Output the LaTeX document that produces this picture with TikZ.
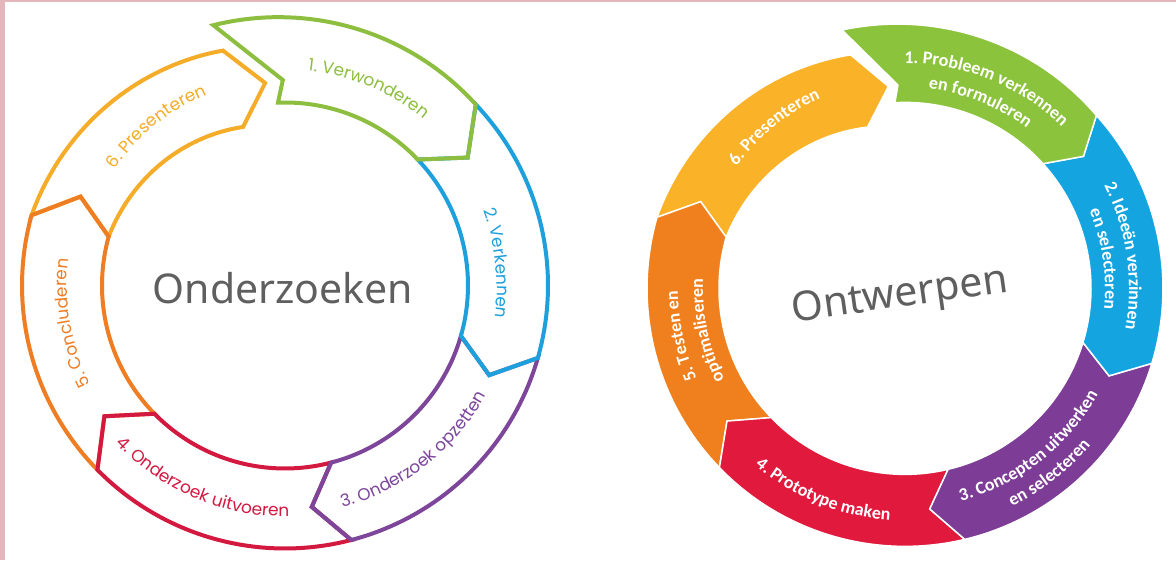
\documentclass[tikz,border=0pt]{standalone}
\usepackage{fontspec}
\usetikzlibrary{decorations.text}
\newfontfamily\popfont{Poppins}
\newfontfamily\carfont{Carlito}
\newfontfamily\notofont{Noto Sans}
\definecolor{pinkedge}{RGB}{226,182,186}
\definecolor{titlegray}{RGB}{95,95,95}
\definecolor{lgreen}{RGB}{141,190,64}
\definecolor{lblue}{RGB}{30,160,220}
\definecolor{lpurple}{RGB}{125,70,155}
\definecolor{lred}{RGB}{212,25,65}
\definecolor{ldorange}{RGB}{238,125,35}
\definecolor{lyellow}{RGB}{245,172,40}
\definecolor{rgreen}{RGB}{140,195,60}
\definecolor{rblue}{RGB}{20,165,225}
\definecolor{rpurple}{RGB}{125,60,150}
\definecolor{rred}{RGB}{225,25,60}
\definecolor{rorange}{RGB}{240,128,30}
\definecolor{ryellow}{RGB}{250,178,40}
\newcommand{\lfont}{\fontsize{17}{20}\selectfont\popfont}
\newcommand{\rfont}{\fontsize{18}{22}\selectfont\carfont\bfseries}
% #1 style, #2 tail, #3 notch, #4 head, #5 tip, #6/#7 radii at tail, #8/#9 radii at head
\newcommand{\ringpart}[9]{%
    \path[#1]
        plot[domain = #2:#4, samples = 40] (\x:{#7 + (#9 - #7)*(\x - (#2))/((#4) - (#2))})
        -- (#5:{(#8 + #9)/2})
        -- plot[domain = #4:#2, samples = 40] (\x:{#8 + (#6 - #8)*(\x - (#4))/((#2) - (#4))})
        -- (#3:{(#6 + #7)/2})
        -- cycle;}
\begin{document}
\begin{tikzpicture}[x = 1pt, y = 1pt,
        leftseg/.style = {draw = #1, line width = 4pt},
        rightseg/.style = {fill = #1, draw = white, line width = 1.5pt},
        ltext/.style = {decorate, decoration = {text along path, text align = center, text color = #1}},
        rtext/.style = {decorate, decoration = {text along path, text align = center, text color = white}},
        titletext/.style = {font = \notofont\fontsize{41}{48}\selectfont, text = titlegray, inner sep = 0pt}]
    \useasboundingbox (0, 0) rectangle (1176, 560);
    \fill[white] (0, 0) rectangle (1176, 560);
    \fill[pinkedge] (0, 0) rectangle (5, 560);
    \fill[pinkedge] (0, 558) rectangle (1176, 560);
    % Onderzoeken
    \begin{scope}[shift = {(285, 274.5)}]
        \ringpart{leftseg = lyellow}{-195.5}{-203.5}{-255.2}{-264.4}{183}{263}{164}{243}
        \ringpart{leftseg = ldorange}{-135.5}{-144.1}{-195.5}{-203.5}{183}{263}{183}{263}
        \ringpart{leftseg = lred}{-75.4}{-83.1}{-135.5}{-144.1}{183}{263}{183}{263}
        \ringpart{leftseg = lpurple}{-16}{-23.7}{-75.4}{-83.1}{183}{263}{183}{263}
        \ringpart{leftseg = lblue}{43.5}{35}{-16}{-23.7}{183}{263}{183}{263}
        \path[leftseg = lgreen]
            plot[domain = 105.4:43.5, samples = 40] (\x:{270 - 7*(\x - 105.4)/(43.5 - 105.4)})
            -- (35:223) -- (43.5:183) arc[start angle = 43.5, end angle = 92.2, radius = 183]
            -- (90.6:205.5) -- cycle;
        \path[ltext = lgreen, decoration = {text = {|\lfont|1. Verwonderen}}]
            (112:216) arc[start angle = 112, end angle = 22, radius = 216];
        \path[ltext = lblue, decoration = {text = {|\lfont|2. Verkennen}}]
            (51:212) arc[start angle = 51, end angle = -39, radius = 212];
        \path[ltext = lpurple, decoration = {text = {|\lfont|3. Onderzoek opzetten}}]
            (-97:229) arc[start angle = -97, end angle = -7, radius = 229];
        \path[ltext = lred, decoration = {text = {|\lfont|4. Onderzoek uitvoeren}}]
            (-158:231) arc[start angle = -158, end angle = -68, radius = 231];
        \path[ltext = ldorange, decoration = {text = {|\lfont|5. Concluderen}}]
            (235:218) arc[start angle = 235, end angle = 145, radius = 218];
        \path[ltext = lyellow, decoration = {text = {|\lfont|6. Presenteren}}]
            (174:206) arc[start angle = 174, end angle = 84, radius = 206];
    \end{scope}
    % Ontwerpen
    \begin{scope}[shift = {(905, 271.6)}]
        \ringpart{rightseg = ryellow}{-196}{-203}{-256.9}{-265.3}{186}{258}{165.6}{239.8}
        \ringpart{rightseg = rorange}{-136}{-143.3}{-196}{-203}{186}{258}{186}{258}
        \ringpart{rightseg = rred}{-76.6}{-83.6}{-136}{-143.3}{186}{258}{186}{258}
        \ringpart{rightseg = rpurple}{-16.9}{-23.2}{-76.6}{-83.6}{186}{258}{186}{258}
        \ringpart{rightseg = rblue}{42.1}{36.5}{-16.9}{-23.2}{186}{258}{186}{258}
        \path[rightseg = rgreen]
            plot[domain = 103.7:42.1, samples = 40] (\x:{266 - 8*(\x - 103.7)/(42.1 - 103.7)})
            -- (36.5:222) -- (42.1:186) arc[start angle = 42.1, end angle = 93.1, radius = 186]
            -- (92:203.5) -- cycle;
        \path[rtext, decoration = {text = {|\rfont|1. Probleem verkennen}}]
            (113:225) arc[start angle = 113, end angle = 23, radius = 225];
        \path[rtext, decoration = {text = {|\rfont|en formuleren}}]
            (113:201) arc[start angle = 113, end angle = 23, radius = 201];
        \path[rtext, decoration = {text = {|\rfont|2. Ideeën verzinnen}}]
            (53.5:224) arc[start angle = 53.5, end angle = -36.5, radius = 224];
        \path[rtext, decoration = {text = {|\rfont|en selecteren}}]
            (53.5:200) arc[start angle = 53.5, end angle = -36.5, radius = 200];
        \path[rtext, decoration = {text = {|\rfont|3. Concepten uitwerken}}]
            (-97:220) arc[start angle = -97, end angle = -7, radius = 220];
        \path[rtext, decoration = {text = {|\rfont|en selecteren}}]
            (-97:243) arc[start angle = -97, end angle = -7, radius = 243];
        \path[rtext, decoration = {text = {|\rfont|4. Prototype maken}}]
            (-157:232) arc[start angle = -157, end angle = -67, radius = 232];
        \path[rtext, decoration = {text = {|\rfont|5. Testen en}}]
            (237:227) arc[start angle = 237, end angle = 147, radius = 227];
        \path[rtext, decoration = {text = {|\rfont|optimaliseren}}]
            (237:202) arc[start angle = 237, end angle = 147, radius = 202];
        \path[rtext, decoration = {text = {|\rfont|6. Presenteren}}]
            (174:208) arc[start angle = 174, end angle = 84, radius = 208];
    \end{scope}
    \node[titletext] (onderzoeken) at (283, 272) {Onderzoeken};
    \node[titletext, rotate = 8] (ontwerpen) at (900, 263) {Ontwerpen};
\end{tikzpicture}
\end{document}
